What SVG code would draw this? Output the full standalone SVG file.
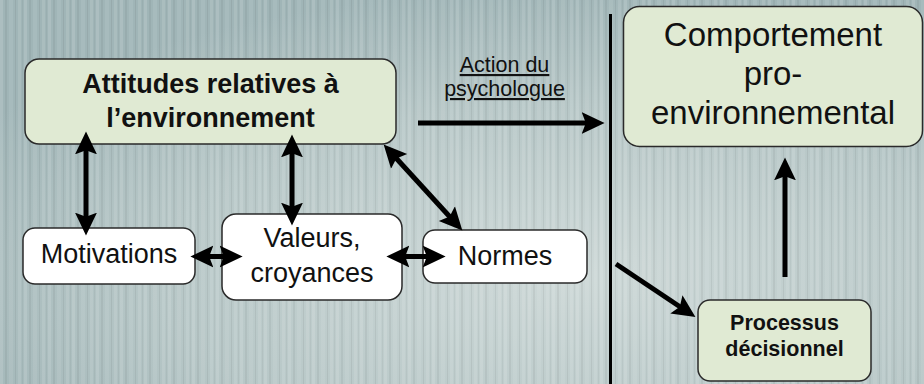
<svg xmlns="http://www.w3.org/2000/svg" width="924" height="384" viewBox="0 0 924 384">
<defs>
<radialGradient id="bg" cx="0.62" cy="0.72" r="0.75">
<stop offset="0" stop-color="#cdd8d7"/>
<stop offset="0.6" stop-color="#b7c7c7"/>
<stop offset="1" stop-color="#a0b5b7"/>
</radialGradient>
<pattern id="stripes" x="0" y="0" width="24" height="384" patternUnits="userSpaceOnUse">
<rect x="0" y="0" width="3" height="384" fill="#ffffff" opacity="0.12"/>
<rect x="5" y="0" width="2" height="384" fill="#000000" opacity="0.05"/>
<rect x="9" y="0" width="4" height="384" fill="#ffffff" opacity="0.08"/>
<rect x="15" y="0" width="1" height="384" fill="#000000" opacity="0.06"/>
<rect x="18" y="0" width="3" height="384" fill="#ffffff" opacity="0.1"/>
<rect x="22" y="0" width="1" height="384" fill="#000000" opacity="0.04"/>
</pattern>
<marker id="ah" markerUnits="userSpaceOnUse" markerWidth="24" markerHeight="24" viewBox="0 -11 23 22" refX="8" refY="0" orient="auto-start-reverse">
<path d="M0,-10.5 L22,0 L0,10.5 L4,0 Z" fill="#000"/>
</marker>
<style>
.box{stroke:#2a2a2a;stroke-width:1.5}
.green{fill:#e0ead3}
.white{fill:#ffffff}
.t{font-family:"Liberation Sans",Arial,Helvetica,sans-serif;fill:#111;text-anchor:middle}
.b{font-weight:bold}
.c{stroke:#000;stroke-width:5;fill:none}
</style>
</defs>
<rect width="924" height="384" fill="url(#bg)"/>
<rect width="924" height="384" fill="url(#stripes)"/>

<g id="label-action">
<text class="t" x="504.5" y="72" font-size="21.5" text-decoration="underline">Action du</text>
<text class="t" x="504.5" y="96" font-size="21.5" text-decoration="underline">psychologue</text>
</g>

<g id="attitudes">
<rect class="box green" x="25" y="59" width="371" height="85" rx="14"/>
<text class="t b" x="210.5" y="92.5" font-size="27">Attitudes relatives à</text>
<text class="t b" x="210.5" y="126.5" font-size="27">l’environnement</text>
</g>

<g id="motivations">
<rect class="box white" x="23" y="228" width="172" height="56" rx="12"/>
<text class="t" x="109" y="262.5" font-size="27">Motivations</text>
</g>

<g id="valeurs">
<rect class="box white" x="222" y="214" width="180" height="86" rx="14"/>
<text class="t" x="312" y="247" font-size="27">Valeurs,</text>
<text class="t" x="312" y="282" font-size="27">croyances</text>
</g>

<g id="normes">
<rect class="box white" x="423" y="230" width="164" height="53" rx="12"/>
<text class="t" x="505" y="264.5" font-size="27">Normes</text>
</g>

<g id="comportement">
<rect class="box green" x="623.5" y="6.5" width="299" height="140" rx="16"/>
<text class="t" x="773" y="46" font-size="33">Comportement</text>
<text class="t" x="773" y="84.5" font-size="33">pro-</text>
<text class="t" x="773" y="123.5" font-size="33">environnemental</text>
</g>

<g id="processus">
<rect class="box green" x="698" y="300" width="173" height="81" rx="12"/>
<text class="t b" x="784.5" y="329.5" font-size="21.5">Processus</text>
<text class="t b" x="784.5" y="355.5" font-size="21.5">décisionnel</text>
</g>

<g id="connectors">
<line class="c" x1="86" y1="146" x2="86" y2="221" marker-start="url(#ah)" marker-end="url(#ah)"/>
<line class="c" x1="292" y1="149" x2="292" y2="211" marker-start="url(#ah)" marker-end="url(#ah)"/>
<line class="c" x1="393.5" y1="155.3" x2="452.5" y2="219.7" marker-start="url(#ah)" marker-end="url(#ah)"/>
<line class="c" x1="205" y1="256.5" x2="228" y2="256.5" marker-start="url(#ah)" marker-end="url(#ah)"/>
<line class="c" x1="401" y1="256.5" x2="431" y2="256.5" marker-start="url(#ah)" marker-end="url(#ah)"/>
<line class="c" x1="418" y1="123" x2="590" y2="123" marker-end="url(#ah)"/>
<line class="c" x1="616" y1="264" x2="683.3" y2="309" marker-end="url(#ah)"/>
<line class="c" x1="785" y1="277" x2="785" y2="172" marker-end="url(#ah)"/>
<line x1="610.5" y1="14" x2="610.5" y2="384" stroke="#000" stroke-width="3"/>
</g>
</svg>
